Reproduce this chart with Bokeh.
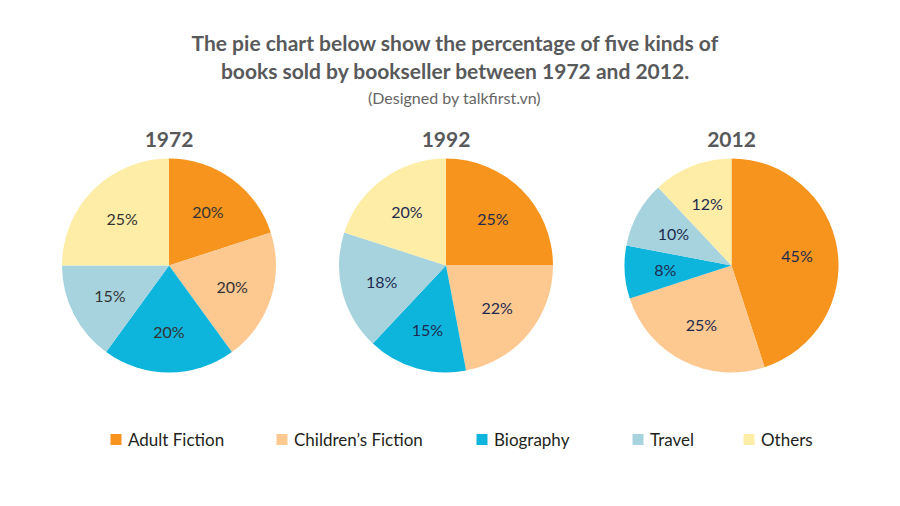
import math
from bokeh.plotting import figure
from bokeh.models import ColumnDataSource, Range1d, Label
from bokeh.core.properties import value
from bokeh.embed import file_html
from bokeh.resources import INLINE

# ---- data ----
categories = ["Adult Fiction", "Children\u2019s Fiction", "Biography", "Travel", "Others"]
years = ["1972", "1992", "2012"]
share_1972 = [20, 20, 20, 15, 25]
share_1992 = [25, 22, 15, 18, 20]
share_2012 = [45, 25, 8, 10, 12]
title_lines = ["The pie chart below show the percentage of five kinds of",
               "books sold by bookseller between 1972 and 2012."]
subtitle = "(Designed by talkfirst.vn)"

# ---- style ----
colors = ["#F7941D", "#FEC891", "#0DB4DC", "#A6D3DE", "#FEEDA6"]
label_colors = ["#333333", "#1E2B4F", "#1E2B4F"]
FONT = "Lato"
W, H = 884, 490

def Y(page_y):
    # convert a picture pixel row (from top) to data y
    return H - page_y

def X(page_x):
    return page_x

p = figure(width=W, height=H, output_backend="svg", toolbar_location=None,
           x_range=Range1d(0, W), y_range=Range1d(0, H), min_border=0)
p.axis.visible = False
p.grid.visible = False
p.outline_line_color = None
p.background_fill_color = "white"
p.border_fill_color = "white"

centers_x = [168.5, 445.5, 731.0]
center_y = 265.0
R = 107
label_r = 0.62 * R

for i, (yr, vals) in enumerate(zip(years, [share_1972, share_1992, share_2012])):
    total = float(sum(vals))
    cum = 0.0
    starts, ends, lx, ly, txt = [], [], [], [], []
    for v in vals:
        a0 = cum / total * 2 * math.pi
        cum += v
        a1 = cum / total * 2 * math.pi
        # clockwise from 12 o'clock
        starts.append(math.pi / 2 - a1)
        ends.append(math.pi / 2 - a0)
        mid = (a0 + a1) / 2
        lx.append(X(centers_x[i]) + label_r * math.sin(mid))
        ly.append(Y(center_y) + label_r * math.cos(mid))
        txt.append(f"{v}%")
    src = ColumnDataSource(dict(x=[X(centers_x[i])] * len(vals), y=[Y(center_y)] * len(vals),
                                start=starts, end=ends, color=colors,
                                lx=lx, ly=ly, txt=txt))
    p.wedge(x="x", y="y", radius=R, start_angle="start", end_angle="end",
            fill_color="color", line_color=None, source=src)
    p.text(x="lx", y="ly", text="txt", source=src, text_align="center",
           text_baseline="middle", text_font=value(FONT), text_font_size="16px",
           text_color=label_colors[i])
    p.add_layout(Label(x=X(centers_x[i]), y=Y(138.5), text=yr, text_align="center",
                       text_baseline="middle", text_font=FONT, text_font_size="21px",
                       text_font_style="bold", text_color="#58595b"))

# titles
for j, line in enumerate(title_lines):
    p.add_layout(Label(x=X(455), y=Y(42 + 28 * j), text=line, text_align="center",
                       text_baseline="middle", text_font=FONT, text_font_size="21px",
                       text_font_style="bold", text_color="#58595b"))
p.add_layout(Label(x=X(454), y=Y(97), text=subtitle, text_align="center",
                   text_baseline="middle", text_font=FONT, text_font_size="16px",
                   text_color="#666666"))

# legend
sq_x = [115.5, 281.5, 481.5, 637.5, 748.5]
leg_src = ColumnDataSource(dict(x=[X(v) for v in sq_x], y=[Y(439)] * 5,
                                tx=[X(v + 12) for v in sq_x], color=colors, name=categories))
p.scatter(x="x", y="y", marker="square", size=11, fill_color="color", line_color=None,
          source=leg_src)
p.text(x="tx", y="y", text="name", source=leg_src, text_align="left",
       text_baseline="middle", text_font=value(FONT), text_font_size="17px",
       text_color="#231f20")

open("out.html", "w").write(file_html(p, INLINE))
